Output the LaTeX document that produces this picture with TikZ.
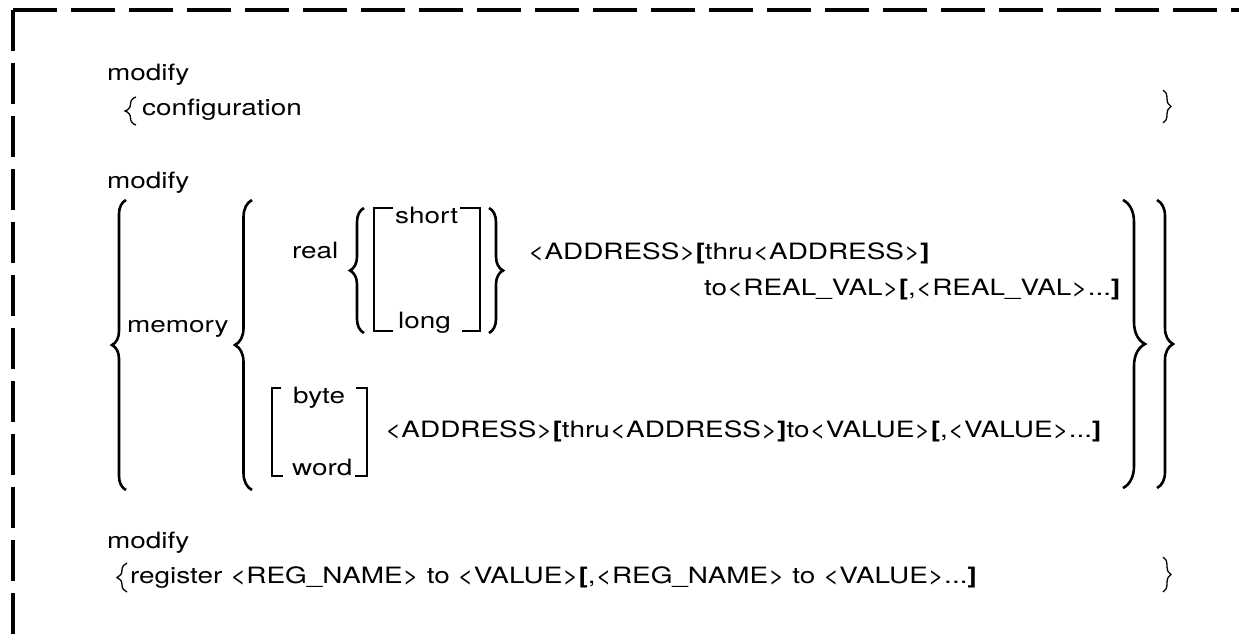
\documentclass[tikz,border=0pt]{standalone}
\usepackage{fontspec}
\setmainfont{TeX Gyre Heros}[FakeStretch=1.24]
\usetikzlibrary{decorations.pathreplacing}

\tikzset{
  curly/.style={decorate, decoration={brace, amplitude=#1}},
  border/.style={line width=3.5pt},
}

\begin{document}
\begin{tikzpicture}[x=1pt, y=-1pt]

      \useasboundingbox (0,0) rectangle (1239,641);

      \draw[border, dash pattern=on 44pt off 14pt] (13,10) -- (1239,10);
      \draw[border, dash pattern=on 41pt off 12pt] (13,10) -- (13,641);

      \begin{scope}[every node/.style={anchor=base west, inner sep=0pt, font=\fontsize{22.5}{27}\selectfont}]
        \node (m1)    at (107,80)  {modify};
        \node (cfg)   at (142,115) {configuration};
        \node (m2)    at (107,188) {modify};
        \node (mem)   at (127,332) {memory};
        \node (real)  at (292,258) {real};
        \node (short) at (395,223) {short};
        \node (long)  at (398,328) {long};
        \node (addr1) at (528,259) {<ADDRESS>\textbf{[}thru<ADDRESS>\textbf{]}};
        \node (val1)  at (704,295) {to<REAL\_VAL>\textbf{[},<REAL\_VAL>...\textbf{]}};
        \node (byte)  at (293,403) {byte};
        \node (word)  at (292,475) {word};
        \node (addr2) at (385,437) {<ADDRESS>\textbf{[}thru<ADDRESS>\textbf{]}to<VALUE>\textbf{[},<VALUE>...\textbf{]}};
        \node (m3)    at (107,548) {modify};
        \node (reg)   at (130,583) {register <REG\_NAME> to <VALUE>\textbf{[},<REG\_NAME> to <VALUE>...\textbf{]}};
      \end{scope}

      \begin{scope}[line width=1.3pt]
        \draw[curly=11pt] (136,125) -- (136,97);
        \draw[curly=8pt]  (1163,90) -- (1163,123);
        \draw[curly=10pt] (127,592) -- (127,563);
        \draw[curly=8pt]  (1163,557) -- (1163,592);
      \end{scope}

      \begin{scope}[line width=2.6pt]
        \draw[curly=14pt] (126,490) -- (126,200);
        \draw[curly=17pt] (252,490) -- (252,200);
        \draw[curly=14pt] (364,333) -- (364,208);
        \draw[curly=14pt] (489,208) -- (489,333);
        \draw[curly=22pt] (1123,200) -- (1123,488);
        \draw[curly=16pt] (1157,200) -- (1157,488);
      \end{scope}

      \begin{scope}[line width=2.4pt]
        \draw (393,208) -- (374,208) -- (374,331) -- (393,331);
        \draw (460,208) -- (480,208) -- (480,331) -- (462,331);
        \draw (281,388) -- (272,388) -- (272,476) -- (283,476);
        \draw (356,388) -- (367,388) -- (367,476) -- (355,476);
      \end{scope}

    \end{tikzpicture}
\end{document}
